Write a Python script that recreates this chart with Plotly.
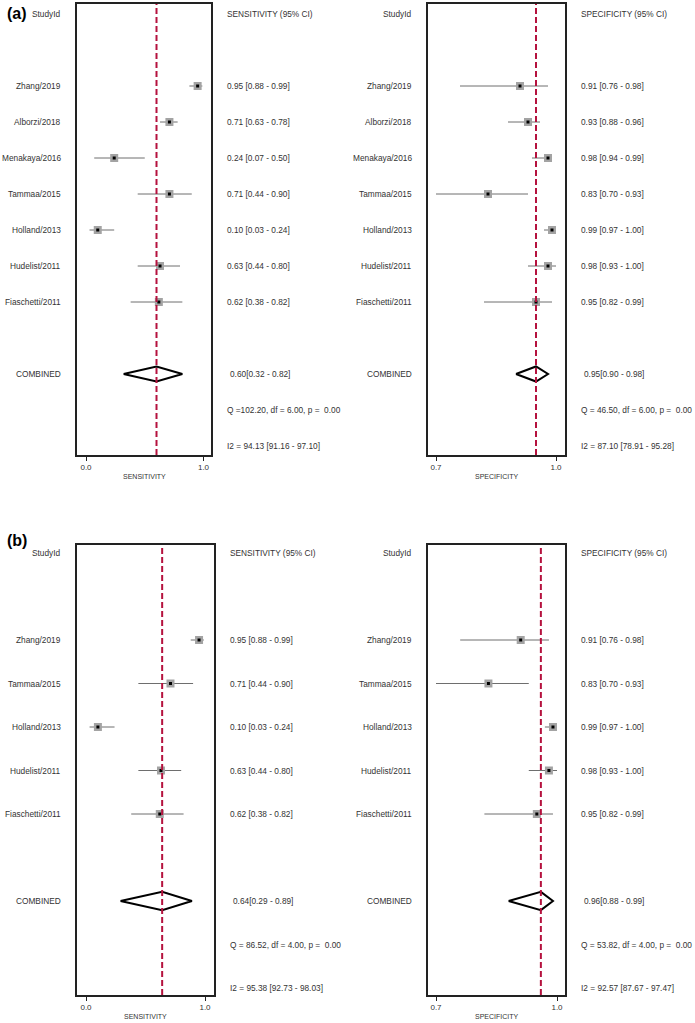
import plotly.graph_objects as go

# ---------------- DATA ----------------
studies_a = ["Zhang/2019", "Alborzi/2018", "Menakaya/2016", "Tammaa/2015",
             "Holland/2013", "Hudelist/2011", "Fiaschetti/2011"]
sens_a_est = [0.95, 0.71, 0.24, 0.71, 0.10, 0.63, 0.62]
sens_a_lo = [0.88, 0.63, 0.07, 0.44, 0.03, 0.44, 0.38]
sens_a_hi = [0.99, 0.78, 0.50, 0.90, 0.24, 0.80, 0.82]
spec_a_est = [0.91, 0.93, 0.98, 0.83, 0.99, 0.98, 0.95]
spec_a_lo = [0.76, 0.88, 0.94, 0.70, 0.97, 0.93, 0.82]
spec_a_hi = [0.98, 0.96, 0.99, 0.93, 1.00, 1.00, 0.99]
sens_a_comb = [0.60, 0.32, 0.82]
spec_a_comb = [0.95, 0.90, 0.98]
sens_a_q = [102.20, 6.00, 0.00]
spec_a_q = [46.50, 6.00, 0.00]
sens_a_i2 = [94.13, 91.16, 97.10]
spec_a_i2 = [87.10, 78.91, 95.28]

studies_b = ["Zhang/2019", "Tammaa/2015", "Holland/2013", "Hudelist/2011", "Fiaschetti/2011"]
sens_b_est = [0.95, 0.71, 0.10, 0.63, 0.62]
sens_b_lo = [0.88, 0.44, 0.03, 0.44, 0.38]
sens_b_hi = [0.99, 0.90, 0.24, 0.80, 0.82]
spec_b_est = [0.91, 0.83, 0.99, 0.98, 0.95]
spec_b_lo = [0.76, 0.70, 0.97, 0.93, 0.82]
spec_b_hi = [0.98, 0.93, 1.00, 1.00, 0.99]
sens_b_comb = [0.64, 0.29, 0.89]
spec_b_comb = [0.96, 0.88, 0.99]
sens_b_q = [86.52, 4.00, 0.00]
spec_b_q = [53.82, 4.00, 0.00]
sens_b_i2 = [95.38, 92.73, 98.03]
spec_b_i2 = [92.57, 87.67, 97.47]

sens_ticks = [0.0, 1.0]
sens_ticktext = ["0.0", "1.0"]
spec_ticks = [0.7, 1.0]
spec_ticktext = ["0.7", "1.0"]

# ---------------- LAYOUT HELPERS ----------------
W, H = 695, 1023
FONT = "Liberation Sans, Arial, sans-serif"
TXT = "#333333"
RED = "#b5123e"


def px(x):
    return x / W


def py(y):
    return 1 - y / H


fig = go.Figure()

panels = [
    dict(lab="(a)", lab_y=14, studies=studies_a, est=sens_a_est, lo=sens_a_lo, hi=sens_a_hi,
         comb=sens_a_comb, q=sens_a_q, i2=sens_a_i2, kind="SENSITIVITY",
         box=(77, 211), t0=(0.0, 86), t1=(1.0, 203.5), top=4, bot=455, row0=14, step=36,
         name_x=63, val_x=225, ticks=sens_ticks, ticktext=sens_ticktext),
    dict(lab=None, studies=studies_a, est=spec_a_est, lo=spec_a_lo, hi=spec_a_hi,
         comb=spec_a_comb, q=spec_a_q, i2=spec_a_i2, kind="SPECIFICITY",
         box=(428, 565), t0=(0.7, 436), t1=(1.0, 556), top=4, bot=455, row0=14, step=36,
         name_x=414, val_x=579, ticks=spec_ticks, ticktext=spec_ticktext),
    dict(lab="(b)", lab_y=540, studies=studies_b, est=sens_b_est, lo=sens_b_lo, hi=sens_b_hi,
         comb=sens_b_comb, q=sens_b_q, i2=sens_b_i2, kind="SENSITIVITY",
         box=(77, 214), t0=(0.0, 86), t1=(1.0, 205), top=545, bot=995, row0=553, step=43.5,
         name_x=63, val_x=228, ticks=sens_ticks, ticktext=sens_ticktext),
    dict(lab=None, studies=studies_b, est=spec_b_est, lo=spec_b_lo, hi=spec_b_hi,
         comb=spec_b_comb, q=spec_b_q, i2=spec_b_i2, kind="SPECIFICITY",
         box=(428, 565), t0=(0.7, 436), t1=(1.0, 557), top=545, bot=995, row0=553, step=43.5,
         name_x=414, val_x=579, ticks=spec_ticks, ticktext=spec_ticktext),
]

annotations = []
shapes = []

for i, p in enumerate(panels, start=1):
    xa = "x" if i == 1 else f"x{i}"
    ya = "y" if i == 1 else f"y{i}"
    xkey = "xaxis" if i == 1 else f"xaxis{i}"
    ykey = "yaxis" if i == 1 else f"yaxis{i}"

    n = len(p["studies"])
    rows = list(range(2, 2 + n))
    comb_row = n + 3
    q_row = comb_row + 1
    i2_row = comb_row + 2

    (v0, p0), (v1, p1) = p["t0"], p["t1"]
    scale = (p1 - p0) / (v1 - v0)
    xr = [v0 + (p["box"][0] - p0) / scale, v0 + (p["box"][1] - p0) / scale]
    yr = [(p["bot"] - p["row0"]) / p["step"], (p["top"] - p["row0"]) / p["step"]]

    fig.layout[xkey] = dict(
        domain=[px(p["box"][0]), px(p["box"][1])], anchor=ya, range=xr,
        showgrid=False, zeroline=False, showline=True, mirror=True,
        linecolor="#222222", linewidth=1.5, ticks="outside", ticklen=4,
        tickwidth=1, tickcolor="#222222", tickvals=p["ticks"], ticktext=p["ticktext"],
        tickfont=dict(family=FONT, size=8, color=TXT), fixedrange=True)
    fig.layout[ykey] = dict(
        domain=[py(p["bot"]), py(p["top"])], anchor=xa, range=yr,
        showgrid=False, zeroline=False, showline=True, mirror=True,
        linecolor="#222222", linewidth=1.5, showticklabels=False, ticks="",
        fixedrange=True)

    fig.add_trace(go.Scatter(
        x=p["est"], y=rows, mode="markers", xaxis=xa, yaxis=ya, showlegend=False,
        hoverinfo="skip",
        marker=dict(symbol="square", size=8, color="#a3a3a3", line=dict(width=0)),
        error_x=dict(type="data", symmetric=False,
                     array=[h - e for h, e in zip(p["hi"], p["est"])],
                     arrayminus=[e - l for e, l in zip(p["est"], p["lo"])],
                     thickness=1, width=0, color="#6e6e6e")))
    fig.add_trace(go.Scatter(
        x=p["est"], y=rows, mode="markers", xaxis=xa, yaxis=ya, showlegend=False,
        hoverinfo="skip",
        marker=dict(symbol="square", size=3, color="#000000", line=dict(width=0))))

    ce, cl, ch = p["comb"]
    hh = 0.21
    fig.add_trace(go.Scatter(
        x=[cl, ce, ch, ce, cl], y=[comb_row, comb_row - hh, comb_row, comb_row + hh, comb_row],
        mode="lines", xaxis=xa, yaxis=ya, showlegend=False, hoverinfo="skip",
        line=dict(color="#000000", width=2)))

    shapes.append(dict(type="line", xref=xa, yref=f"{ya} domain", x0=ce, x1=ce, y0=0, y1=1,
                       line=dict(color=RED, width=2, dash="6px,3px"), layer="above"))

    def ann(x, y, text, anchor, size=8.3):
        annotations.append(dict(xref="paper", yref=ya, x=px(x), y=y, text=text,
                                xanchor=anchor, yanchor="middle", showarrow=False,
                                font=dict(family=FONT, size=size, color=TXT)))

    ann(p["name_x"], 0, "StudyId", "right")
    ann(p["val_x"], 0, f"{p['kind']} (95% CI)", "left")
    for r, s, e, l, h in zip(rows, p["studies"], p["est"], p["lo"], p["hi"]):
        ann(p["name_x"], r, s, "right")
        ann(p["val_x"], r, f"{e:.2f} [{l:.2f} - {h:.2f}]", "left")
    ann(p["name_x"], comb_row, "COMBINED", "right")
    ann(p["val_x"] + 3, comb_row, f"{ce:.2f}[{cl:.2f} - {ch:.2f}]", "left")
    qv, dfv, pv = p["q"]
    ann(p["val_x"], q_row, f"Q ={qv:6.2f}, df = {dfv:.2f}, p =  {pv:.2f}".replace(" ", "&nbsp;"), "left")
    iv, il, ih = p["i2"]
    ann(p["val_x"], i2_row, f"I2 = {iv:.2f} [{il:.2f} - {ih:.2f}]", "left")

    annotations.append(dict(xref=f"{xa} domain", yref="paper", x=0.5, y=py(p["bot"] + 21),
                            text=p["kind"], showarrow=False, xanchor="center", yanchor="middle",
                            font=dict(family=FONT, size=7, color=TXT)))

    if p["lab"]:
        annotations.append(dict(xref="paper", yref="paper", x=px(5), y=py(p["lab_y"]),
                                text=f"<b>{p['lab']}</b>", showarrow=False,
                                xanchor="left", yanchor="middle",
                                font=dict(family=FONT, size=16, color="#000000")))

fig.update_layout(width=W, height=H, margin=dict(l=0, r=0, t=0, b=0),
                  paper_bgcolor="white", plot_bgcolor="white", hovermode=False,
                  annotations=annotations, shapes=shapes, showlegend=False)

fig.write_html("out.html", config={"displayModeBar": False},
               post_script="document.body.style.margin='0px';document.body.style.overflow='hidden';")
